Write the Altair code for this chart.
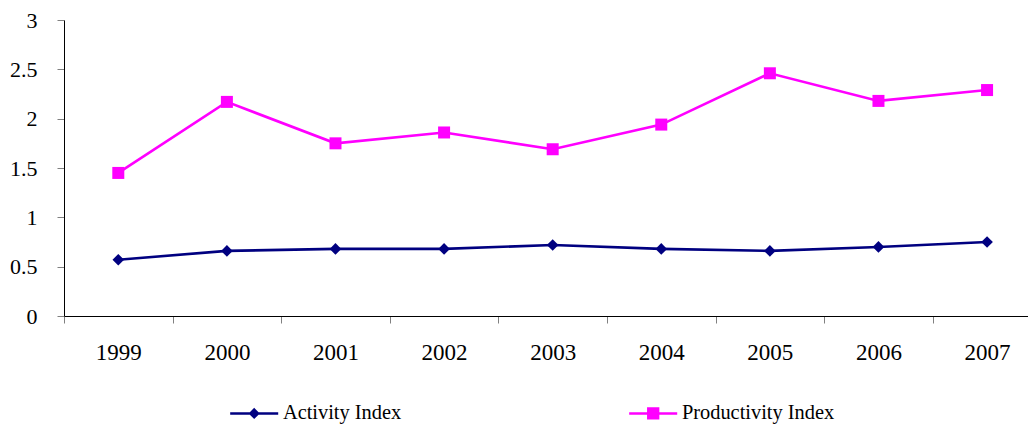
import altair as alt
import pandas as pd

years = [1999, 2000, 2001, 2002, 2003, 2004, 2005, 2006, 2007]
activity = [0.57, 0.66, 0.68, 0.68, 0.72, 0.68, 0.66, 0.70, 0.75]
productivity = [1.45, 2.17, 1.75, 1.86, 1.69, 1.94, 2.46, 2.18, 2.29]
series_names = ["Activity Index", "Productivity Index"]
series_colors = ["#000080", "#FF00FF"]
series_shapes = ["diamond", "square"]
series_sizes = [135, 144]
y_ticks = [0, 0.5, 1, 1.5, 2, 2.5, 3]
x_tick_bounds = [1998.5, 1999.5, 2000.5, 2001.5, 2002.5, 2003.5, 2004.5, 2005.5, 2006.5]

rows = []
for yr, a, p in zip(years, activity, productivity):
    rows.append({"year": yr, "series": series_names[0], "value": a})
    rows.append({"year": yr, "series": series_names[1], "value": p})
df = pd.DataFrame(rows)

FONT = "Liberation Serif"

x_enc = alt.X(
    "year:Q",
    scale=alt.Scale(domain=[1998.5, 2007.377], nice=False, zero=False),
    axis=alt.Axis(
        values=x_tick_bounds,
        labelExpr="'' + (datum.value + 0.5)",
        labelOffset=54.3,
        labelFlush=False,
        labelOverlap=False,
        labelAlign="center",
        grid=False,
        tickSize=7,
        tickColor="#808080",
        domainColor="#000000",
        labelFont=FONT,
        labelFontSize=23,
        labelColor="#000000",
        labelPadding=18,
    ),
    title=None,
)
y_enc = alt.Y(
    "value:Q",
    scale=alt.Scale(domain=[0, 3], nice=False, zero=True),
    axis=alt.Axis(
        values=y_ticks,
        format=".1~f",
        grid=False,
        tickSize=7,
        tickColor="#808080",
        domainColor="#000000",
        labelFont=FONT,
        labelFontSize=22,
        labelColor="#000000",
        labelPadding=20,
    ),
    title=None,
)

base = alt.Chart(df).encode(x=x_enc, y=y_enc)

layers = []
for name, col in zip(series_names, series_colors):
    layers.append(
        base.transform_filter(alt.datum.series == name).mark_line(strokeWidth=2.6, color=col)
    )
for name, col, shp, sz in zip(series_names, series_colors, series_shapes, series_sizes):
    layers.append(
        base.transform_filter(alt.datum.series == name).mark_point(
            filled=True, shape=shp, size=sz, opacity=1, color=col
        )
    )

path_a = "M-3.43,0L3.43,0M0,-0.55L0.55,0L0,0.55L-0.55,0Z"
path_p = "M-3.43,0L3.43,0M-0.7,-0.7L0.7,-0.7L0.7,0.7L-0.7,0.7Z"

leg = alt.Legend(
    title=None,
    orient="none",
    legendX=180,
    legendY=383,
    direction="horizontal",
    symbolSize=196,
    symbolStrokeWidth=2.5,
    symbolOpacity=1,
    labelFont=FONT,
    labelFontSize=20.4,
    labelColor="#000000",
    labelOffset=18.5,
    columnPadding=222,
    padding=0,
    labelLimit=400,
)

legend_layer = base.mark_point(
    filled=True, opacity=1, strokeWidth=2.5, size=0
).encode(
    fill=alt.Fill("series:N", scale=alt.Scale(domain=series_names, range=series_colors), legend=leg),
    stroke=alt.Stroke("series:N", scale=alt.Scale(domain=series_names, range=series_colors), legend=leg),
    shape=alt.Shape("series:N", scale=alt.Scale(domain=series_names, range=[path_a, path_p]), legend=leg),
)
layers.append(legend_layer)

chart = (
    alt.layer(*layers)
    .properties(
        width=964,
        height=296,
        padding={"left": 56, "top": 12, "right": 0, "bottom": 110},
        autosize="none",
    )
    .configure_view(strokeWidth=0)
)

chart.save("out.html", embed_options={"renderer": "svg", "actions": False})
